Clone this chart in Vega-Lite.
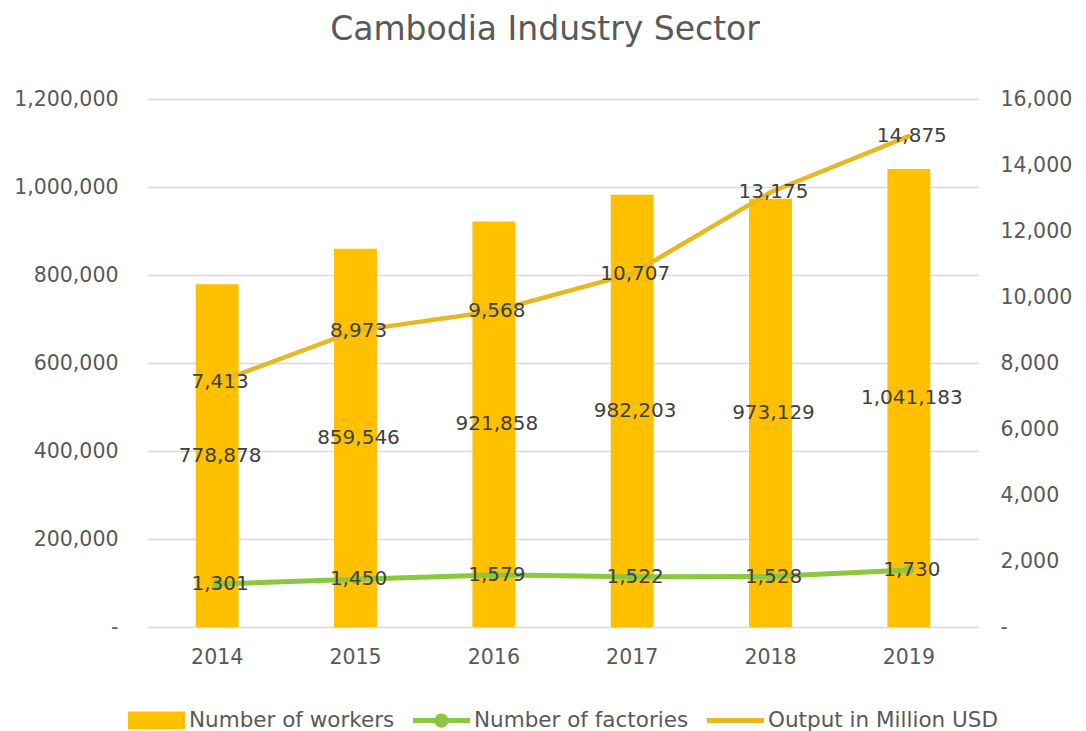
{
  "$schema": "https://vega.github.io/schema/vega-lite/v6.json",
  "width": 830,
  "height": 528,
  "autosize": {"type": "none"},
  "padding": {"left": 148, "top": 99, "right": 108, "bottom": 104},
  "background": "white",
  "title": {"text": "Cambodia Industry Sector", "fontSize": 33, "font": "DejaVu Sans", "fontWeight": "normal", "color": "#595959", "offset": 42, "dx": -18},
  "config": {
    "font": "DejaVu Sans",
    "view": {"stroke": null},
    "axis": {"labelFont": "DejaVu Sans", "labelFontSize": 20.5, "labelColor": "#595959", "ticks": false, "domain": false, "gridColor": "#D9D9D9", "gridWidth": 1.3},
    "legend": {"orient": "none", "legendX": -20, "legendY": 593, "direction": "horizontal", "labelFont": "DejaVu Sans", "labelFontSize": 21.5, "labelColor": "#595959", "symbolSize": 3249, "symbolType": "M-1,-0.32H1V0.32H-1Z", "labelOffset": 4, "columnPadding": 18, "labelLimit": 400}
  },
  "data": {"values": [
    {"year": "2014", "series": "Number of workers", "value": 778878},
    {"year": "2015", "series": "Number of workers", "value": 859546},
    {"year": "2016", "series": "Number of workers", "value": 921858},
    {"year": "2017", "series": "Number of workers", "value": 982203},
    {"year": "2018", "series": "Number of workers", "value": 973129},
    {"year": "2019", "series": "Number of workers", "value": 1041183},
    {"year": "2014", "series": "Number of factories", "value": 1301},
    {"year": "2015", "series": "Number of factories", "value": 1450},
    {"year": "2016", "series": "Number of factories", "value": 1579},
    {"year": "2017", "series": "Number of factories", "value": 1522},
    {"year": "2018", "series": "Number of factories", "value": 1528},
    {"year": "2019", "series": "Number of factories", "value": 1730},
    {"year": "2014", "series": "Output in Million USD", "value": 7413},
    {"year": "2015", "series": "Output in Million USD", "value": 8973},
    {"year": "2016", "series": "Output in Million USD", "value": 9568},
    {"year": "2017", "series": "Output in Million USD", "value": 10707},
    {"year": "2018", "series": "Output in Million USD", "value": 13175},
    {"year": "2019", "series": "Output in Million USD", "value": 14875}
  ]},
  "encoding": {
    "x": {"field": "year", "type": "ordinal", "scale": {"paddingInner": 0.69, "paddingOuter": 0.345}, "axis": {"title": null, "labelAngle": 0, "labelPadding": 20, "grid": false}}
  },
  "layer": [
    {
      "transform": [{"filter": "datum.series === 'Number of workers'"}],
      "mark": {"type": "bar"},
      "encoding": {
        "y": {"field": "value", "type": "quantitative", "scale": {"domain": [0, 1200000]}, "axis": {"title": null, "orient": "left", "values": [0, 200000, 400000, 600000, 800000, 1000000, 1200000], "labelExpr": "datum.value === 0 ? '-\u2007' : format(datum.value, ',')", "labelPadding": 30, "grid": true}},
        "color": {"field": "series", "type": "nominal", "scale": {"domain": ["Number of workers", "Number of factories", "Output in Million USD"], "range": ["#FFC000", "#8DC63F", "#E6B923"]},
          "legend": {"title": null, "encode": {"symbols": {"update": {
            "shape": {"signal": "datum.value === 'Number of workers' ? 'M-1,-0.32H1V0.32H-1Z' : datum.value === 'Number of factories' ? 'M-1,-0.09H1V0.09H-1Z M0.25,0A0.25,0.25 0 1,1 -0.25,0A0.25,0.25 0 1,1 0.25,0Z' : 'M-1,-0.09H1V0.09H-1Z'"},
            "fill": {"signal": "datum.value === 'Number of workers' ? '#FFC000' : datum.value === 'Number of factories' ? '#8DC63F' : '#E6B923'"},
            "stroke": {"value": "transparent"},
            "strokeWidth": {"value": 0},
            "size": {"value": 3249},
            "opacity": {"value": 1}
          }}}}}
      }
    },
    {
      "transform": [{"filter": "datum.series === 'Number of workers'"}],
      "mark": {"type": "text", "fontSize": 20, "color": "#404040", "baseline": "middle", "dx": 3},
      "encoding": {
        "y": {"field": "value", "type": "quantitative", "scale": {"domain": [0, 2400000]}, "axis": null},
        "text": {"field": "value", "type": "quantitative", "format": ","}
      }
    },
    {
      "encoding": {
        "y": {"field": "value", "type": "quantitative", "scale": {"domain": [0, 16000]}, "axis": {"title": null, "orient": "right", "values": [0, 2000, 4000, 6000, 8000, 10000, 12000, 14000, 16000], "labelExpr": "datum.value === 0 ? '-' : format(datum.value, ',')", "labelPadding": 22, "grid": false}}
      },
      "layer": [
        {
          "transform": [{"filter": "datum.series === 'Output in Million USD'"}],
          "mark": {"type": "line", "strokeWidth": 4.5, "strokeCap": "round"},
          "encoding": {"color": {"field": "series", "type": "nominal"}}
        },
        {
          "transform": [{"filter": "datum.series === 'Number of factories'"}],
          "mark": {"type": "line", "strokeWidth": 5, "strokeCap": "round", "point": {"filled": true, "size": 100, "opacity": 1}},
          "encoding": {"color": {"field": "series", "type": "nominal"}}
        },
        {
          "transform": [{"filter": "datum.series !== 'Number of workers'"}],
          "mark": {"type": "text", "fontSize": 20, "color": "#404040", "baseline": "middle", "dx": 3},
          "encoding": {"text": {"field": "value", "type": "quantitative", "format": ","}}
        }
      ]
    }
  ],
  "resolve": {"scale": {"y": "independent"}}
}
